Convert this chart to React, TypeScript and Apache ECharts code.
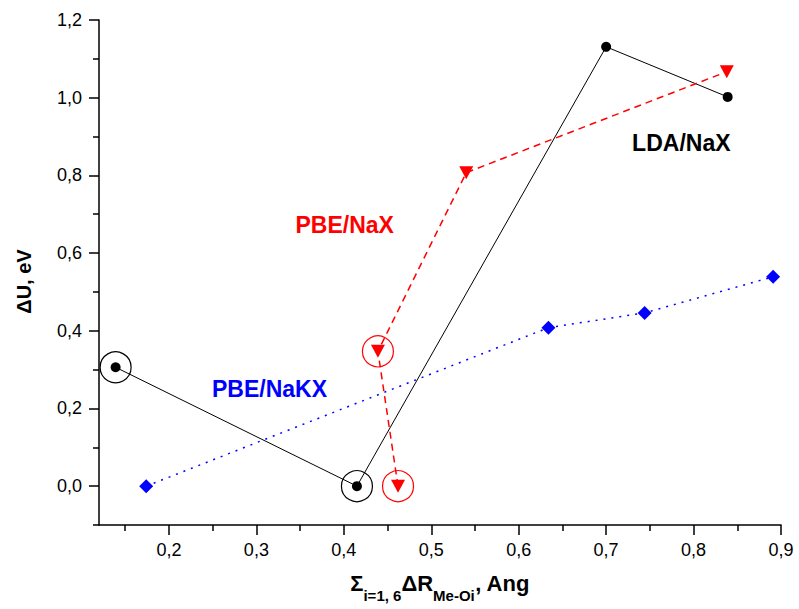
import React, { useEffect, useRef } from "react";
import * as echarts from "echarts";

// ---- data ----
const ldaX = [0.139, 0.415, 0.7, 0.839];
const ldaY = [0.306, 0.0, 1.131, 1.002];

const pbeNaX_X = [0.462, 0.439, 0.540, 0.838];
const pbeNaX_Y = [0.0, 0.347, 0.807, 1.067];

const pbeNaKX_X = [0.174, 0.634, 0.744, 0.891];
const pbeNaKX_Y = [0.0, 0.408, 0.446, 0.539];

// indices of points that are circled
const ldaCircled = [0, 1];
const pbeNaXCircled = [0, 1];

const xMajorTicks = [0.2, 0.3, 0.4, 0.5, 0.6, 0.7, 0.8, 0.9];
const xMinorTicks = [0.15, 0.25, 0.35, 0.45, 0.55, 0.65, 0.75, 0.85];
const yMajorTicks = [0.0, 0.2, 0.4, 0.6, 0.8, 1.0, 1.2];
const yMinorTicks = [-0.1, 0.1, 0.3, 0.5, 0.7, 0.9, 1.1];

const seriesLabels = ["LDA/NaX", "PBE/NaX", "PBE/NaKX"];
const labelX = [0.786, 0.401, 0.315];
const labelY = [0.883, 0.672, 0.25];
const labelColors = ["#000000", "#ff0000", "#0000ff"];

const X_MIN = 0.12;
const X_MAX = 0.9;
const Y_MIN = -0.1;
const Y_MAX = 1.2;

const FONT = "Liberation Sans, Arial, sans-serif";

const fmt = (v: number) => v.toFixed(1).replace(".", ",");

export default function App() {
  const ref = useRef<HTMLDivElement>(null);
  useEffect(() => {
    if (!ref.current) return;
    const chart = echarts.init(ref.current, null, { renderer: "svg" });
    const zip = (xs: number[], ys: number[]) => xs.map((x, i) => [x, ys[i]]);

    const axisLineStyle = { color: "#000", width: 1.5 };

    const option: any = {
      animation: false,
      backgroundColor: "#ffffff",
      grid: { left: 99, right: 18, top: 20, bottom: 84, containLabel: false },
      xAxis: [
        {
          type: "value",
          min: X_MIN,
          max: X_MAX,
          position: "bottom",
          axisLine: { show: true, onZero: false, lineStyle: axisLineStyle },
          axisTick: { show: true, inside: false, length: 10, lineStyle: axisLineStyle, customValues: xMajorTicks },
          axisLabel: {
            show: true,
            customValues: xMajorTicks,
            formatter: (v: number) => fmt(v),
            color: "#000",
            fontFamily: FONT,
            fontSize: 18,
            margin: 16,
          },
          splitLine: { show: false },
          name: "{m|Σ}{s|i=1, 6}{m|ΔR}{s|Me-Oi}{m|, Ang}",
          nameLocation: "middle",
          nameGap: 47,
          nameTextStyle: {
            rich: {
              m: { fontFamily: FONT, fontSize: 22, fontWeight: "bold", color: "#000", lineHeight: 22, verticalAlign: "top" },
              s: { fontFamily: FONT, fontSize: 15, fontWeight: "bold", color: "#000", lineHeight: 15, padding: [16, 0, 0, 0], verticalAlign: "top" },
            },
          },
        },
        {
          type: "value",
          min: X_MIN,
          max: X_MAX,
          position: "bottom",
          axisLine: { show: false, onZero: false },
          axisTick: { show: true, inside: false, length: 6, lineStyle: axisLineStyle, customValues: xMinorTicks },
          axisLabel: { show: false },
          splitLine: { show: false },
        },
      ],
      yAxis: [
        {
          type: "value",
          min: Y_MIN,
          max: Y_MAX,
          position: "left",
          axisLine: { show: true, onZero: false, lineStyle: axisLineStyle },
          axisTick: { show: true, inside: false, length: 10, lineStyle: axisLineStyle, customValues: yMajorTicks },
          axisLabel: {
            show: true,
            customValues: yMajorTicks,
            formatter: (v: number) => fmt(v),
            color: "#000",
            fontFamily: FONT,
            fontSize: 18,
            margin: 17,
          },
          splitLine: { show: false },
          name: "ΔU, eV",
          nameLocation: "middle",
          nameRotate: 90,
          nameGap: 65,
          nameTextStyle: { fontFamily: FONT, fontSize: 20, fontWeight: "bold", color: "#000", padding: [0, 18, 0, 0] },
        },
        {
          type: "value",
          min: Y_MIN,
          max: Y_MAX,
          position: "left",
          offset: 0,
          axisLine: { show: false, onZero: false },
          axisTick: { show: true, inside: false, length: 6, lineStyle: axisLineStyle, customValues: yMinorTicks },
          axisLabel: { show: false },
          splitLine: { show: false },
        },
      ],
      series: [
        {
          name: "LDA/NaX",
          type: "line",
          data: zip(ldaX, ldaY),
          lineStyle: { color: "#000", width: 1, type: "solid" },
          itemStyle: { color: "#000" },
          symbol: "circle",
          symbolSize: 10,
          showSymbol: true,
          z: 3,
        },
        {
          name: "PBE/NaX",
          type: "line",
          data: zip(pbeNaX_X, pbeNaX_Y),
          lineStyle: { color: "#ff0000", width: 1.5, type: [7, 5] },
          itemStyle: { color: "#ff0000" },
          symbol: "path://M0,0 L10,0 L5,9 Z",
          symbolSize: [14, 13],
          z: 3,
        },
        {
          name: "PBE/NaKX",
          type: "line",
          data: zip(pbeNaKX_X, pbeNaKX_Y),
          lineStyle: { color: "#0000ff", width: 1.5, type: [2, 6] },
          itemStyle: { color: "#0000ff" },
          symbol: "diamond",
          symbolSize: 14,
          z: 3,
        },
        {
          type: "scatter",
          data: ldaCircled.map((i) => [ldaX[i], ldaY[i]]),
          symbol: "circle",
          symbolSize: 31,
          itemStyle: { color: "rgba(0,0,0,0)", borderColor: "#000", borderWidth: 1.2, opacity: 1 },
          z: 2,
        },
        {
          type: "scatter",
          data: pbeNaXCircled.map((i) => [pbeNaX_X[i], pbeNaX_Y[i]]),
          symbol: "circle",
          symbolSize: 31,
          itemStyle: { color: "rgba(0,0,0,0)", borderColor: "#ff0000", borderWidth: 1.2, opacity: 1 },
          z: 2,
        },
        {
          type: "scatter",
          data: seriesLabels.map((t, i) => ({
            value: [labelX[i], labelY[i]],
            label: {
              show: true,
              position: "inside",
              formatter: t,
              color: labelColors[i],
              fontFamily: FONT,
              fontSize: 23,
              fontWeight: "bold",
              opacity: 1,
            },
          })),
          symbolSize: 1,
          itemStyle: { color: "rgba(0,0,0,0)", opacity: 1 },
          silent: true,
          z: 4,
        },
      ],
    };
    chart.setOption(option);
    return () => chart.dispose();
  }, []);
  return (
    <div
      ref={ref}
      style={{ position: "fixed", left: 0, top: 0, width: 799, height: 609, background: "#fff" }}
    />
  );
}
